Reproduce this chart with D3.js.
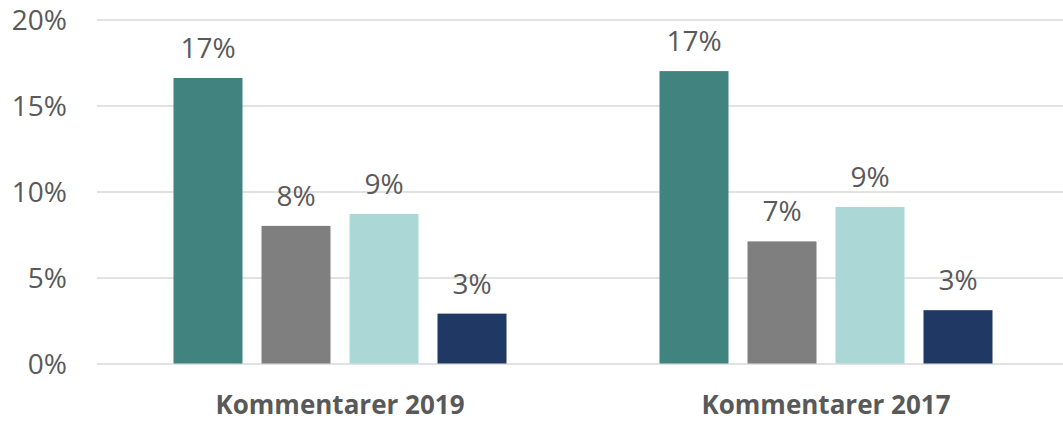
<!DOCTYPE html>
<html>
<head>
<meta charset="utf-8">
<script src="https://cdn.jsdelivr.net/npm/d3@7"></script>
<style>
	body { margin: 0; background: #fff; }
	svg { display: block; font-family: 'Open Sans', 'Liberation Sans', Arial, sans-serif; }
</style>
</head>
<body>
<svg id="chart" width="1063" height="422"></svg>
<script>
// chart data
const groups = ['Kommentarer 2019', 'Kommentarer 2017'];
const series = ['a', 'b', 'c', 'd'];
const values2019 = [16.6, 8.0, 8.7, 2.9];
const values2017 = [17.0, 7.1, 9.1, 3.1];
const labels2019 = ['17%', '8%', '9%', '3%'];
const labels2017 = ['17%', '7%', '9%', '3%'];
const yTicks = [0, 5, 10, 15, 20];
const colors = ['#41847f', '#7f7f7f', '#abd7d6', '#203864'];

const rows = [
	{ group: groups[0], values: values2019, labels: labels2019 },
	{ group: groups[1], values: values2017, labels: labels2017 }
];

const width = 1063;
const height = 422;
const margin = { top: 19.5, right: -6, bottom: 58.5, left: 97 };
const TEXT = '#595959';

const $svg = d3.select('#chart');

const x0 = d3.scaleBand()
	.domain(groups)
	.range([margin.left, width - margin.right]);

const x1 = d3.scaleBand()
	.domain(series)
	.range([76.5, x0.bandwidth() - 76.5])
	.paddingInner(0.216);

const y = d3.scaleLinear()
	.domain([0, 20])
	.range([height - margin.bottom, margin.top]);

// gridlines + tick labels
const yAxis = d3.axisLeft(y)
	.tickValues(yTicks)
	.tickSize(-(width - margin.left))
	.tickPadding(30)
	.tickFormat(d => `${d}%`);

const $y = $svg.append('g')
	.attr('transform', `translate(${margin.left},0)`)
	.call(yAxis);
$y.select('.domain').remove();
$y.selectAll('.tick line').attr('stroke', '#d9d9d9').attr('stroke-width', 1.5);
$y.selectAll('.tick text')
	.attr('fill', TEXT)
	.attr('font-size', 28)
	.attr('dy', '0.36em')
	.attr('font-family', 'Open Sans, Liberation Sans, Arial, sans-serif');

// bars
const $groups = $svg.append('g')
	.selectAll('g')
	.data(rows)
	.join('g')
	.attr('transform', d => `translate(${x0(d.group)},0)`);

$groups.selectAll('rect')
	.data(d => d.values.map((v, i) => ({ key: series[i], v, i })))
	.join('rect')
	.attr('x', d => x1(d.key))
	.attr('width', x1.bandwidth())
	.attr('y', d => y(d.v))
	.attr('height', d => y(0) - y(d.v))
	.attr('fill', d => colors[d.i]);

$groups.selectAll('text.val')
	.data(d => d.values.map((v, i) => ({ key: series[i], v, label: d.labels[i] })))
	.join('text')
	.attr('class', 'val')
	.attr('x', d => x1(d.key) + x1.bandwidth() / 2)
	.attr('y', d => y(d.v) - 20)
	.attr('text-anchor', 'middle')
	.attr('fill', TEXT)
	.attr('font-size', 28)
	.text(d => d.label);

// category labels
$svg.append('g')
	.selectAll('text')
	.data(groups)
	.join('text')
	.attr('x', d => x0(d) + x0.bandwidth() / 2)
	.attr('y', 414)
	.attr('text-anchor', 'middle')
	.attr('fill', TEXT)
	.attr('font-size', 26)
	.attr('font-weight', 'bold')
	.text(d => d);
</script>
</body>
</html>
